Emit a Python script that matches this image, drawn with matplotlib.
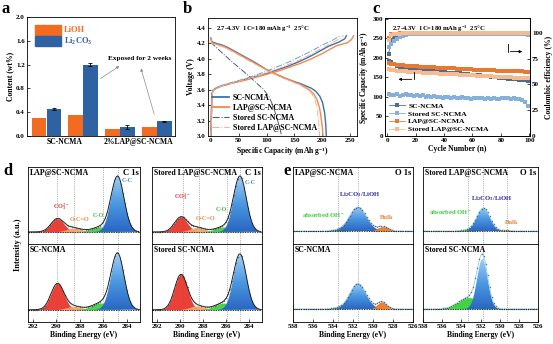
import numpy as np
import matplotlib
matplotlib.use('Agg')
import matplotlib.pyplot as plt
from matplotlib.patches import Patch, Polygon
from matplotlib.lines import Line2D
from matplotlib.colors import LinearSegmentedColormap

### Global style: bold serif text, inward ticks
plt.rcParams['font.family'] = ['Liberation Serif', 'DejaVu Serif']
plt.rcParams['font.weight'] = 'bold'
plt.rcParams['axes.labelweight'] = 'bold'
plt.rcParams['mathtext.fontset'] = 'custom'
plt.rcParams['mathtext.rm'] = 'Liberation Serif:bold'
plt.rcParams['mathtext.it'] = 'Liberation Serif:bold'
plt.rcParams['mathtext.bf'] = 'Liberation Serif:bold'
plt.rcParams['mathtext.default'] = 'rm'
plt.rcParams['xtick.direction'] = 'in'
plt.rcParams['ytick.direction'] = 'in'
plt.rcParams['xtick.labelsize'] = 5
plt.rcParams['ytick.labelsize'] = 5
plt.rcParams['axes.labelsize'] = 5.5
plt.rcParams['axes.linewidth'] = 0.6
plt.rcParams['xtick.major.size'] = 2
plt.rcParams['ytick.major.size'] = 2
plt.rcParams['xtick.major.width'] = 0.5
plt.rcParams['ytick.major.width'] = 0.5
plt.rcParams['xtick.major.pad'] = 1.5
plt.rcParams['ytick.major.pad'] = 1.5
plt.rcParams['axes.labelpad'] = 1.5

### ---------------- Data ----------------
## (a) residual lithium content
a_groups = ['SC-NCMA', '2%LAP@SC-NCMA']
lioh = [0.30, 0.35, 0.12, 0.15]
li2co3 = [0.45, 1.20, 0.15, 0.25]
li2co3_err = [0.02, 0.03, 0.03, 0.01]

## (b) charge / discharge profiles
sc_chg_cap = [0, 2, 5, 10, 20, 40, 60, 80, 100, 120, 140, 160, 180, 200, 210, 220, 230, 240, 243]
sc_chg_v = [3.0, 3.55, 3.6, 3.62, 3.65, 3.69, 3.73, 3.77, 3.81, 3.86, 3.91, 3.97, 4.04, 4.12, 4.16, 4.19, 4.22, 4.26, 4.30]
sc_dis_cap = [0, 2, 10, 20, 30, 40, 50, 60, 80, 100, 120, 140, 160, 170, 180, 188, 195, 200, 204, 206, 207]
sc_dis_v = [4.27, 4.22, 4.20, 4.18, 4.15, 4.11, 4.07, 4.03, 3.95, 3.86, 3.79, 3.73, 3.68, 3.65, 3.62, 3.58, 3.52, 3.44, 3.30, 3.15, 3.0]

lap_chg_cap = [0, 2, 5, 10, 20, 40, 60, 80, 100, 120, 140, 160, 180, 200, 215, 225, 235, 245, 252, 256]
lap_chg_v = [3.0, 3.55, 3.6, 3.62, 3.65, 3.69, 3.72, 3.76, 3.80, 3.84, 3.89, 3.94, 4.00, 4.07, 4.13, 4.17, 4.19, 4.21, 4.25, 4.30]
lap_dis_cap = [0, 2, 10, 20, 30, 40, 50, 60, 80, 100, 120, 140, 160, 170, 178, 185, 191, 195, 198, 200, 201]
lap_dis_v = [4.26, 4.21, 4.19, 4.17, 4.14, 4.10, 4.06, 4.02, 3.94, 3.86, 3.79, 3.73, 3.67, 3.63, 3.59, 3.54, 3.46, 3.36, 3.22, 3.10, 3.0]

st_sc_chg_cap = [0, 3, 8, 20, 40, 60, 80, 100, 120, 140, 160, 180, 200, 215, 225, 232]
st_sc_chg_v = [3.0, 3.58, 3.62, 3.66, 3.70, 3.74, 3.79, 3.84, 3.90, 3.96, 4.03, 4.10, 4.18, 4.23, 4.27, 4.30]
st_sc_dis_cap = [0, 5, 20, 40, 60, 80, 95, 105, 112, 118, 123, 127]
st_sc_dis_v = [4.22, 4.18, 4.08, 3.95, 3.83, 3.70, 3.60, 3.50, 3.38, 3.25, 3.12, 3.0]

st_lap_chg_cap = [0, 3, 8, 20, 40, 60, 80, 100, 120, 140, 160, 180, 200, 215, 228, 238]
st_lap_chg_v = [3.0, 3.57, 3.61, 3.65, 3.69, 3.73, 3.77, 3.82, 3.87, 3.93, 3.99, 4.06, 4.14, 4.20, 4.25, 4.30]
st_lap_dis_cap = [0, 2, 10, 20, 40, 60, 80, 100, 120, 140, 160, 172, 180, 186, 190, 193, 195]
st_lap_dis_v = [4.25, 4.20, 4.18, 4.16, 4.09, 4.01, 3.93, 3.85, 3.78, 3.72, 3.66, 3.61, 3.56, 3.49, 3.38, 3.20, 3.0]

## (c) cycling at 1C (every second cycle)
cycles = list(range(1, 100, 2))
sc_cap = [192, 189, 184, 180, 177, 175, 174, 173, 172, 171,
          170, 169, 168.5, 168, 167, 166.5, 166, 165, 164.5, 164,
          163, 162.5, 162, 161, 160.5, 160, 159, 158.5, 158, 157,
          156, 155.5, 155, 154, 153, 152.5, 152, 151, 150, 149.5,
          149, 148, 147, 146.5, 146, 145, 144, 143.5, 143, 142]
st_sc_cap = [108, 106, 104, 107, 103, 105, 108, 104, 106, 103,
             105, 102, 104, 101, 103, 100, 102, 99, 101, 98,
             100, 99, 97, 100, 98, 96, 99, 97, 98, 95,
             97, 96, 98, 96, 94, 97, 95, 96, 94, 95,
             97, 96, 98, 95, 96, 94, 95, 92, 88, 76]
lap_cap = [187, 185, 183, 182, 181, 180.5, 180, 179.5, 179, 178.5,
           178, 177.5, 177, 176.8, 176.5, 176, 175.6, 175.2, 174.8, 174.4,
           174, 173.6, 173.2, 172.8, 172.4, 172, 171.6, 171.2, 170.8, 170.4,
           170, 169.7, 169.4, 169.1, 168.8, 168.5, 168.2, 167.9, 167.6, 167.3,
           167, 166.7, 166.4, 166.1, 165.8, 165.5, 165.3, 165.1, 164.9, 164.7]
st_lap_cap = [172, 170, 168.5, 167.5, 166.5, 166, 165.5, 165, 164.5, 164,
              163.5, 163, 162.5, 162, 161.5, 161, 160.6, 160.2, 159.8, 159.4,
              159, 158.6, 158.2, 157.8, 157.4, 157, 156.6, 156.2, 155.8, 155.4,
              155, 154.6, 154.2, 153.8, 153.4, 153, 152.6, 152.2, 151.8, 151.4,
              151, 150.6, 150.3, 150, 149.7, 149.4, 149.1, 148.8, 148.5, 148.2]
sc_ce = [80, 93, 96, 97.5, 98.2, 98.6, 98.8, 99.0, 99.1, 99.2,
         99.3, 99.2, 99.4, 99.3, 99.4, 99.3, 99.5, 99.4, 99.3, 99.4,
         99.5, 99.4, 99.3, 99.5, 99.4, 99.4, 99.5, 99.3, 99.4, 99.5,
         99.4, 99.3, 99.5, 99.4, 99.4, 99.5, 99.3, 99.4, 99.5, 99.4,
         99.3, 99.4, 99.5, 99.4, 99.3, 99.4, 99.5, 99.4, 99.3, 99.2]
st_sc_ce = [86, 89, 92, 94, 96, 97.5, 98, 98.5, 98.7, 99.0,
            98.8, 99.1, 98.9, 99.0, 99.2, 98.8, 99.1, 99.0, 98.9, 99.2,
            99.0, 98.8, 99.1, 99.0, 99.2, 98.9, 99.0, 99.1, 98.8, 99.0,
            99.2, 98.9, 99.1, 99.0, 98.8, 99.1, 99.0, 99.2, 98.9, 99.0,
            99.1, 98.8, 99.0, 99.2, 98.9, 99.0, 99.1, 98.9, 98.6, 98.0]
lap_ce = [95, 98.5, 99.2, 99.4, 99.5, 99.6, 99.6, 99.7, 99.6, 99.7,
          99.6, 99.7, 99.7, 99.6, 99.7, 99.8, 99.7, 99.6, 99.7, 99.7,
          99.8, 99.7, 99.6, 99.7, 99.7, 99.8, 99.7, 99.6, 99.7, 99.8,
          99.7, 99.7, 99.6, 99.7, 99.8, 99.7, 99.7, 99.6, 99.7, 99.8,
          99.7, 99.6, 99.7, 99.7, 99.8, 99.7, 99.6, 99.7, 99.7, 99.6]
st_lap_ce = [93, 98, 99.0, 99.3, 99.4, 99.5, 99.5, 99.6, 99.5, 99.6,
             99.5, 99.6, 99.6, 99.5, 99.6, 99.7, 99.6, 99.5, 99.6, 99.6,
             99.7, 99.6, 99.5, 99.6, 99.6, 99.7, 99.6, 99.5, 99.6, 99.7,
             99.6, 99.6, 99.5, 99.6, 99.7, 99.6, 99.6, 99.5, 99.6, 99.7,
             99.6, 99.5, 99.6, 99.6, 99.7, 99.6, 99.5, 99.6, 99.6, 99.5]

## (d) C 1s peak fits: centre (eV), height (norm.), FWHM (eV)
c1s_labels = ['CO$_3^{2-}$', 'O-C=O', 'C-O', 'C-C']
c1s_centres = [289.9, 288.5, 286.2, 284.8]
c1s_fwhm = [1.3, 1.5, 1.8, 1.3]
c1s_heights = {
    'LAP@SC-NCMA': [0.24, 0.07, 0.09, 1.0],
    'SC-NCMA': [0.47, 0.06, 0.12, 1.0],
    'Stored LAP@SC-NCMA': [0.27, 0.08, 0.09, 1.0],
    'Stored SC-NCMA': [0.63, 0.07, 0.12, 0.98],
}

## (e) O 1s peak fits: absorbed OH-, Li2CO3/LiOH, bulk lattice O
o1s_labels = ['absorbed OH$^{-}$', 'Li$_2$CO$_3$/LiOH', 'Bulk']
o1s_centres = {
    'LAP@SC-NCMA': [533.5, 531.5, 529.0],
    'SC-NCMA': [533.5, 531.5, 529.1],
    'Stored LAP@SC-NCMA': [533.4, 531.7, 529.3],
    'Stored SC-NCMA': [533.2, 531.8, 529.3],
}
o1s_heights = {
    'LAP@SC-NCMA': [0.02, 0.47, 0.09],
    'SC-NCMA': [0.02, 0.49, 0.14],
    'Stored LAP@SC-NCMA': [0.02, 0.45, 0.015],
    'Stored SC-NCMA': [0.22, 0.96, 0.0],
}
o1s_fwhm = {
    'LAP@SC-NCMA': [1.5, 2.0, 1.3],
    'SC-NCMA': [1.5, 1.9, 1.1],
    'Stored LAP@SC-NCMA': [1.5, 1.6, 1.2],
    'Stored SC-NCMA': [2.6, 1.3, 1.2],
}

### ---------------- Figure ----------------
W, H = 553, 344
fig = plt.figure(figsize=(W / 100, H / 100), dpi=100)


## Place an axes from pixel box (left, top, right, bottom)
def add_ax(x0, y0, x1, y1):
    return fig.add_axes([x0 / W, 1 - y1 / H, (x1 - x0) / W, (y1 - y0) / H])


ORANGE = '#f26b21'
BLUE = '#2f62a3'
COND = '2.7-4.3V  1C=180 mAh g$^{-1}$  25\u00b0C'

## ----- (a) -----
ax = add_ax(27, 17, 175, 136)
pos = np.array([0.81, 3.28, 5.78, 8.28])
ax.bar(pos, lioh, width=0.98, color=ORANGE)
ax.bar(pos + 1.0, li2co3, width=0.98, color=BLUE, yerr=li2co3_err,
       error_kw=dict(elinewidth=0.6, capsize=1.2, capthick=0.6, ecolor='k'))
ax.set_xlim(0, 10)
ax.set_ylim(0, 2.0)
ax.set_yticks(np.arange(0, 2.01, 0.4))
ax.set_yticklabels(['%.1f' % v for v in np.arange(0, 2.01, 0.4)])
ax.set_xticks([(pos[0] + pos[1] + 1) / 2, (pos[2] + pos[3] + 1) / 2])
ax.set_xticklabels(a_groups, fontsize=5.5)
ax.tick_params(axis='x', length=0)
ax.set_ylabel('Content (wt%)')
leg = ax.legend(handles=[Patch(color=ORANGE), Patch(color=BLUE)],
                labels=['LiOH', 'Li$_2$CO$_3$'], loc='upper left',
                frameon=False, fontsize=6, handlelength=3.2, handleheight=1.5,
                borderaxespad=0.5, labelspacing=0.1, handletextpad=0.3)
for t, c in zip(leg.get_texts(), [ORANGE, BLUE]):
    t.set_color(c)
ax.text(7.6, 1.31, 'Exposed for 2 weeks', fontsize=5.2, ha='center', va='center')
ax.annotate('', xy=(6.4, 1.2), xytext=(4.8, 0.94),
            arrowprops=dict(arrowstyle='-|>', lw=0.5, color='0.55', mutation_scale=4))
ax.annotate('', xy=(7.65, 1.18), xytext=(8.65, 0.32),
            arrowprops=dict(arrowstyle='-|>', lw=0.5, color='0.55', mutation_scale=4))

## ----- (b) -----
ax = add_ax(208, 18, 357, 136)
C_SC = '#3d6fae'
C_LAP = '#ef8a4c'
C_SSC = '#4a5d78'
C_SLAP = '#f6b08a'
ax.plot(sc_chg_cap, sc_chg_v, color=C_SC, lw=1.0)
ax.plot(sc_dis_cap, sc_dis_v, color=C_SC, lw=1.0)
ax.plot(lap_chg_cap, lap_chg_v, color=C_LAP, lw=1.0)
ax.plot(lap_dis_cap, lap_dis_v, color=C_LAP, lw=1.0)
ax.plot(st_sc_chg_cap, st_sc_chg_v, color='#6f9fd0', lw=0.7, ls='-.')
ax.plot(st_sc_dis_cap, st_sc_dis_v, color=C_SSC, lw=0.7, ls='-.')
ax.plot(st_lap_chg_cap, st_lap_chg_v, color=C_SLAP, lw=0.7, ls='-.')
ax.plot(st_lap_dis_cap, st_lap_dis_v, color=C_SLAP, lw=0.7, ls='-.')
ax.set_xlim(-5, 262)
ax.set_ylim(3.0, 4.53)
ax.set_xticks([0, 50, 100, 150, 200, 250])
ax.set_yticks(np.arange(3.0, 4.41, 0.2))
ax.set_yticklabels(['%.1f' % v for v in np.arange(3.0, 4.41, 0.2)])
ax.set_xlabel('Specific Capacity (mAh g$^{-1}$)')
ax.set_ylabel('Voltage (V)')
ax.text(0.37, 0.955, COND, transform=ax.transAxes, fontsize=4.8, ha='center', va='top')
handles = [Line2D([], [], color=C_SC, lw=1.3), Line2D([], [], color=C_LAP, lw=1.3),
           Line2D([], [], color=C_SSC, lw=0.8, ls='-.'), Line2D([], [], color=C_SLAP, lw=0.8, ls='-.')]
ax.legend(handles, ['SC-NCMA', 'LAP@SC-NCMA', 'Stored SC-NCMA', 'Stored LAP@SC-NCMA'],
          loc='lower left', frameon=False, fontsize=5.7, handlelength=2.2,
          labelspacing=0.25, handletextpad=0.4, borderaxespad=0.1)

## ----- (c) -----
ax = add_ax(385, 18, 530, 136)
ax2 = ax.twinx()
C_CSC = '#4f6d90'
C_CSSC = '#86b0dc'
C_CLAP = '#e67a35'
C_CSLAP = '#f7bb92'
series = [(sc_cap, sc_ce, C_CSC, 'SC-NCMA'), (st_sc_cap, st_sc_ce, C_CSSC, 'Stored SC-NCMA'),
          (lap_cap, lap_ce, C_CLAP, 'LAP@SC-NCMA'), (st_lap_cap, st_lap_ce, C_CSLAP, 'Stored LAP@SC-NCMA')]
for cap, ce, col, name in series:
    ax.plot(cycles, cap, 's-', color=col, ms=2.2, lw=0.6, mew=0, label=name)
    ax2.plot(cycles, ce, 's-', color=col, ms=2.2, lw=0.6, mew=0)
ax.set_xlim(-1.5, 100.5)
ax.set_ylim(0, 302)
ax2.set_ylim(0, 114.5)
ax.set_xticks([0, 20, 40, 60, 80, 100])
ax.set_yticks([0, 50, 100, 150, 200, 250, 300])
ax2.set_yticks([0, 25, 50, 75, 100])
ax2.tick_params(direction='in', labelsize=5, length=2, width=0.5, pad=1.5)
ax.set_xlabel('Cycle Number (n)')
ax.set_ylabel('Specific Capacity (mAh g$^{-1}$)', labelpad=1)
ax2.set_ylabel('Coulombic efficiency (%)', fontsize=5.5, labelpad=2)
ax.text(0.37, 0.955, COND, transform=ax.transAxes, fontsize=4.8, ha='center', va='top')
ax.legend(loc='lower left', frameon=False, fontsize=5.4, handlelength=2.2,
          labelspacing=0.2, handletextpad=0.4, borderaxespad=0.1, markerscale=1.2)
# axis-indicator arrows
ax.plot([19, 19], [145, 164], color='k', lw=0.6)
ax.annotate('', xy=(6, 145), xytext=(19.3, 145),
            arrowprops=dict(arrowstyle='-|>', lw=0.6, color='k', mutation_scale=4))
ax.plot([85, 85], [216, 236], color='k', lw=0.6)
ax.annotate('', xy=(97, 216), xytext=(84.7, 216),
            arrowprops=dict(arrowstyle='-|>', lw=0.6, color='k', mutation_scale=4))


## ----- XPS helpers -----
def gauss(x, c, h, w):
    return h * np.exp(-4 * np.log(2) * (x - c) ** 2 / w ** 2)


BLUE_GRAD = LinearSegmentedColormap.from_list('bluegrad', ['#2a66c4', '#4a97e0', '#9ccdf5'])


def xps_panel(ax, x, centres, heights, widths, colours, env_col, ylim, grad_idx):
    total = np.zeros_like(x)
    for i, (c, h, w, col) in enumerate(zip(centres, heights, widths, colours)):
        g = gauss(x, c, h, w)
        if i == grad_idx and h > 0:
            # shaded fill: dark at base, light at the top
            verts = np.column_stack([np.r_[x, x[::-1]], np.r_[g, np.zeros_like(g)]])
            shape = Polygon(verts, closed=True, facecolor='none', edgecolor='none')
            ax.add_patch(shape)
            grad = np.linspace(0, 1, 100).reshape(-1, 1)
            im = ax.imshow(grad, extent=[x.min(), x.max(), 0, h], origin='lower',
                           aspect='auto', cmap=BLUE_GRAD, zorder=1)
            im.set_clip_path(shape)
        else:
            ax.fill_between(x, 0, g, color=col, lw=0, alpha=0.95)
        total += g
    ax.plot(x, total, color=env_col, lw=0.6)
    ax.plot(x[::7], total[::7], 'o', ms=0.7, mfc='none', mec='0.3', mew=0.3)
    ax.axhline(0, color='k', lw=0.5, ls=(0, (2, 1.5)))
    ax.set_ylim(*ylim)
    ax.set_yticks([])


C1S_COL = ['#e8352c', '#f3a469', '#3fd23f', '#3f8ddc']
O1S_COL = ['#36d336', '#3f8ddc', '#f07a28']

## ----- (d) C 1s -----
xc = np.linspace(283.0, 292.5, 400)
d_cols = [(28, 140, ['LAP@SC-NCMA', 'SC-NCMA'], [289.9, 288.5, 286.0, 284.8]),
          (152, 262, ['Stored LAP@SC-NCMA', 'Stored SC-NCMA'], [289.7, 288.3, 285.9, 284.8])]
d_text = {
    'LAP@SC-NCMA': [(289.6, 0.36), (288.0, 0.18), (286.4, 0.25), (284.45, 0.88)],
    'Stored LAP@SC-NCMA': [(289.8, 0.55), (287.8, 0.20), (286.4, 0.36), (284.4, 0.86)],
}
for x0, x1, names, guides in d_cols:
    top = add_ax(x0, 167, x1, 244)
    bot = add_ax(x0, 244, x1, 322)
    for a_, name in zip([top, bot], names):
        xps_panel(a_, xc, c1s_centres, c1s_heights[name], c1s_fwhm, C1S_COL, 'k',
                  (-0.22, 1.18), 3)
        a_.set_xlim(292.4, 282.9)
        for g in guides:
            a_.axvline(g, color='0.45', lw=0.5, ls=':', zorder=0.5)
        a_.text(0.015, 0.97, name, transform=a_.transAxes, fontsize=5.6, va='top', ha='left')
        if name in d_text:
            for lab, (tx, ty), col in zip(c1s_labels, d_text[name],
                                          ['#e03a30', '#f08a40', '#40c040', '#4a8fd0']):
                a_.text(tx, ty, lab, color=col, fontsize=4.5, ha='left' if lab == 'C-C' else 'center',
                        va='bottom')
            a_.text(0.99, 0.97, 'C 1s', transform=a_.transAxes, fontsize=6.2, va='top', ha='right')
    top.set_xticks([])
    bot.set_xticks([292, 290, 288, 286, 284])
    bot.set_xlabel('Binding Energy (eV)')
    if x0 == 28:
        fig.text(18 / W, 1 - 245 / H, 'Intensity (a.u.)', rotation=90, fontsize=6,
                 ha='center', va='center')

## ----- (e) O 1s -----
xo = np.linspace(526, 538, 400)
e_cols = [(293, 413, ['LAP@SC-NCMA', 'SC-NCMA'], [533.5, 531.5]),
          (423, 538, ['Stored LAP@SC-NCMA', 'Stored SC-NCMA'], [533.3, 531.7, 529.2])]
e_text = {
    'LAP@SC-NCMA': [(535.0, 0.22), (531.3, 0.62), (528.6, 0.22)],
    'Stored LAP@SC-NCMA': [(535.2, 0.28), (530.8, 0.55), (528.7, 0.12)],
}
for x0, x1, names, guides in e_cols:
    top = add_ax(x0, 167, x1, 244)
    bot = add_ax(x0, 244, x1, 322)
    for a_, name in zip([top, bot], names):
        xps_panel(a_, xo, o1s_centres[name], o1s_heights[name], o1s_fwhm[name], O1S_COL,
                  '#8fd0f2', (-0.25, 1.25), 1)
        a_.set_xlim(538, 526)
        for g in guides:
            a_.axvline(g, color='0.45', lw=0.5, ls=':', zorder=0.5)
        a_.text(0.015, 0.97, name, transform=a_.transAxes, fontsize=5.6, va='top', ha='left')
        if name in e_text:
            for lab, (tx, ty), col in zip(o1s_labels, e_text[name], ['#3ccc3c', '#2c2ca0', '#e8863a']):
                a_.text(tx, ty, lab, color=col, fontsize=4.8, ha='center', va='bottom')
            a_.text(0.99, 0.97, 'O 1s', transform=a_.transAxes, fontsize=6.2, va='top', ha='right')
    top.set_xticks([])
    bot.set_xticks([538, 536, 534, 532, 530, 528, 526])
    bot.set_xlabel('Binding Energy (eV)')

## ----- panel letters -----
for lab, px, py in [('a', 2, 1), ('b', 183, 1), ('c', 372, 1), ('d', 3, 163), ('e', 283, 163)]:
    fig.text(px / W, 1 - py / H, lab, fontsize=12, fontweight='bold', va='top', ha='left')

fig.savefig('out.png', dpi=100)
